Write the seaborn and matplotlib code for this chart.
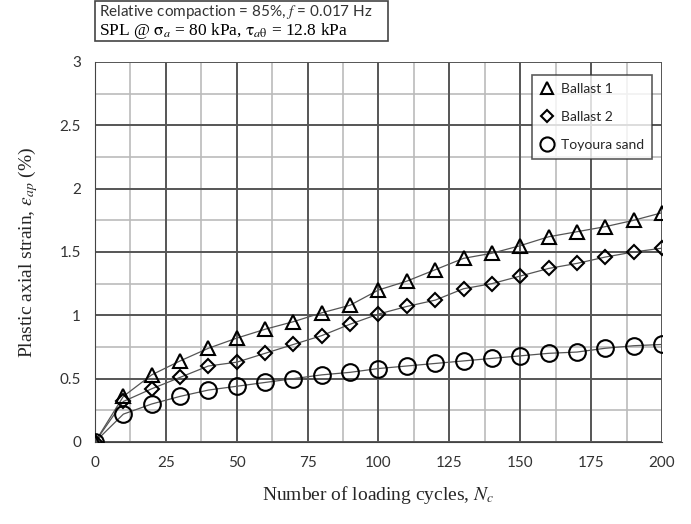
import numpy as np
import pandas as pd
import seaborn as sns
import matplotlib.pyplot as plt
from matplotlib.patches import Rectangle

cycles = [0, 10, 20, 30, 40, 50, 60, 70, 80, 90, 100,
          110, 120, 130, 140, 150, 160, 170, 180, 190, 200]
ballast1 = [0, 0.36, 0.53, 0.64, 0.74, 0.82, 0.89, 0.95, 1.02, 1.08, 1.20,
            1.27, 1.36, 1.45, 1.49, 1.55, 1.62, 1.66, 1.70, 1.75, 1.81]
ballast2 = [0, 0.32, 0.42, 0.51, 0.60, 0.63, 0.70, 0.77, 0.84, 0.93, 1.01,
            1.07, 1.12, 1.21, 1.25, 1.31, 1.37, 1.41, 1.46, 1.50, 1.53]
toyoura = [0, 0.22, 0.30, 0.36, 0.41, 0.44, 0.47, 0.50, 0.53, 0.55, 0.58,
           0.60, 0.62, 0.64, 0.66, 0.68, 0.70, 0.71, 0.74, 0.76, 0.77]
labels = ['Ballast 1', 'Ballast 2', 'Toyoura sand']
markers = ['^', 'D', 'o']
msizes = [10, 7.5, 12]

x_ticks = [0, 25, 50, 75, 100, 125, 150, 175, 200]
y_ticks = [0, 0.5, 1, 1.5, 2, 2.5, 3]

sns.set_style("white")
plt.rcParams['mathtext.fontset'] = 'stix'
fig = plt.figure(figsize=(6.91, 5.24), dpi=100)
ax = fig.add_axes([0.1375, 0.1565, 0.8205, 0.7252])

df = pd.DataFrame({'N': cycles * 3,
                   'strain': ballast1 + ballast2 + toyoura,
                   'mat': sum([[l] * len(cycles) for l in labels], [])})

# minor and major grid
for v in np.arange(12.5, 200, 25):
    ax.axvline(v, color='#bbbbbb', lw=1.2, zorder=0)
for v in np.arange(0.25, 3, 0.5):
    ax.axhline(v, color='#bbbbbb', lw=1.2, zorder=0)
for v in x_ticks:
    ax.axvline(v, color='#555555', lw=1.4, zorder=0)
for v in y_ticks:
    ax.axhline(v, color='#555555', lw=1.4, zorder=0)

for lab, m, s in zip(labels, markers, msizes):
    sub = df[df.mat == lab]
    sns.lineplot(data=sub, x='N', y='strain', ax=ax, color='#555555',
                 lw=0.9, zorder=2, legend=False)
    ax.plot(sub.N, sub.strain, linestyle='none', marker=m, ms=s,
            mfc='none', mec='black', mew=1.5, zorder=3, label=lab)

ax.set_xlim(0, 200)
ax.set_ylim(0, 3)
ax.set_xticks(x_ticks)
ax.set_yticks(y_ticks)
ax.set_xticklabels([str(t) for t in x_ticks])
ax.set_yticklabels(['0', '0.5', '1', '1.5', '2', '2.5', '3'])
ax.tick_params(direction='out', length=6, width=1.2, color='#444444',
               labelsize=11, labelcolor='#333333', pad=4)
for lbl in ax.get_xticklabels() + ax.get_yticklabels():
    lbl.set_family('Lato')
for sp in ax.spines.values():
    sp.set_visible(False)
ax.spines['left'].set_visible(True)
ax.spines['bottom'].set_visible(True)
ax.spines['left'].set_color('#444444')
ax.spines['bottom'].set_color('#444444')

ax.set_xlabel('Number of loading cycles, $N_c$', family='Liberation Serif',
              fontsize=14, labelpad=10)
ax.set_ylabel(r'Plastic axial strain, $\varepsilon_{ap}$ (%)',
              family='Liberation Serif', fontsize=14, labelpad=14)

leg = ax.legend(loc='upper right', bbox_to_anchor=(0.995, 0.985),
                frameon=True, fancybox=False, edgecolor='#333333',
                prop={'family': 'Lato', 'size': 10}, borderpad=0.6,
                labelspacing=1.15, handletextpad=0.5, handlelength=1.0,
                markerscale=0.85)
leg.get_frame().set_linewidth(1.2)

# header box
fig.patches.append(Rectangle((95 / 691, 1 - 41 / 524), 293 / 691, 40 / 524,
                             transform=fig.transFigure, fill=False,
                             edgecolor='#444444', lw=1.2))
fig.text(99 / 691, 1 - 12 / 524, 'Relative compaction = 85%, $f$ = 0.017 Hz',
         family='Lato', fontsize=11, color='#333333', va='center')
fig.text(99 / 691, 1 - 31 / 524,
         r'SPL @ $\mathrm{\sigma}_a$ = 80 kPa, $\mathrm{\tau}_{a\mathrm{\theta}}$ = 12.8 kPa',
         family='Liberation Serif', fontsize=12.5, color='black', va='center')

fig.savefig('out.png', dpi=100)
